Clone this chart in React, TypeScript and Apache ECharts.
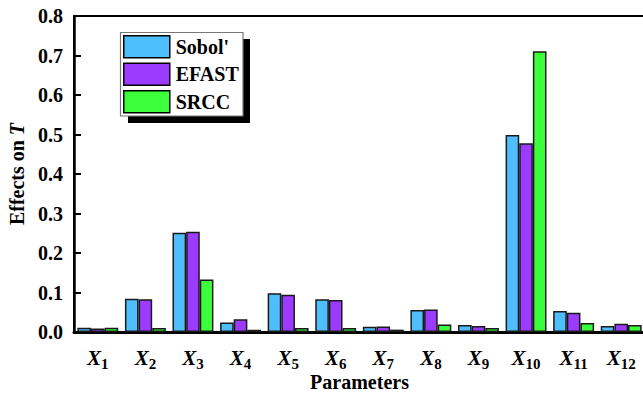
import React, { useEffect, useRef } from "react";
import * as echarts from "echarts";

const categories = ["1", "2", "3", "4", "5", "6", "7", "8", "9", "10", "11", "12"];
const sobol = [0.011, 0.084, 0.251, 0.024, 0.098, 0.083, 0.013, 0.056, 0.018, 0.499, 0.053, 0.015];
const efast = [0.009, 0.083, 0.254, 0.032, 0.094, 0.081, 0.014, 0.057, 0.015, 0.478, 0.049, 0.021];
const srcc = [0.011, 0.010, 0.133, 0.006, 0.010, 0.010, 0.006, 0.019, 0.010, 0.711, 0.023, 0.018];
const seriesNames = ["Sobol'", "EFAST", "SRCC"];
const colors = ["#4FBEFF", "#9B3BFF", "#3CFF3C"];

const FONT = "Liberation Serif";

export default function App() {
  const ref = useRef<HTMLDivElement>(null);
  useEffect(() => {
    if (!ref.current) return;
    const chart = echarts.init(ref.current, null, { renderer: "svg" });
    const values = [sobol, efast, srcc];
    chart.setOption({
      animation: false,
      backgroundColor: "#fff",
      grid: {
        left: 74,
        top: 16,
        right: -2,
        bottom: 62,
        show: true,
        borderColor: "#000",
        borderWidth: 2,
        outerBoundsMode: "none",
        containLabel: false,
      },
      legend: {
        orient: "vertical",
        left: 123,
        top: 35,
        itemWidth: 46,
        itemHeight: 22,
        itemGap: 4,
        padding: 0,
        icon: "rect",
        data: seriesNames,
        itemStyle: { borderColor: "#000", borderWidth: 1.5 },
        textStyle: { fontFamily: FONT, fontWeight: "bold", fontSize: 20, color: "#000", padding: [0, 0, 0, 1] },
      },
      graphic: [
        { type: "rect", shape: { x: 243, y: 39, width: 7, height: 84 }, style: { fill: "#000" }, z: 1 },
        { type: "rect", shape: { x: 128, y: 116, width: 122, height: 7 }, style: { fill: "#000" }, z: 1 },
        { type: "rect", shape: { x: 120.5, y: 32.5, width: 122.5, height: 83.5 }, style: { fill: "none", stroke: "#777", lineWidth: 1.2 }, z: 1 },
      ],
      xAxis: {
        type: "category",
        data: categories,
        name: "Parameters",
        nameLocation: "middle",
        nameGap: 40,
        nameMoveOverlap: false,
        nameTextStyle: { fontFamily: FONT, fontWeight: "bold", fontSize: 20, color: "#000", lineHeight: 20 },
        axisLine: { lineStyle: { color: "#000", width: 3 } },
        axisTick: { show: false },
        axisLabel: {
          interval: 0,
          margin: 12,
          formatter: (v: string) => `{x|X}{s|${v}}`,
          rich: {
            x: { fontFamily: FONT, fontWeight: "bold", fontStyle: "italic", fontSize: 21, color: "#000" },
            s: { fontFamily: FONT, fontWeight: "bold", fontSize: 15, color: "#000", padding: [12, 0, 0, 0] },
          },
        },
      },
      yAxis: {
        type: "value",
        min: 0,
        max: 0.8,
        interval: 0.1,
        name: "{a|Effects on }{b|T}",
        nameLocation: "middle",
        nameGap: 47,
        nameMoveOverlap: false,
        nameTextStyle: {
          rich: {
            a: { fontFamily: FONT, fontWeight: "bold", fontSize: 20, color: "#000" },
            b: { fontFamily: FONT, fontWeight: "bold", fontStyle: "italic", fontSize: 20, color: "#000" },
          },
        },
        axisLine: { show: true, lineStyle: { color: "#000", width: 2.5 } },
        axisTick: { show: true, inside: true, length: 7, lineStyle: { color: "#000", width: 2 } },
        splitLine: { show: false },
        axisLabel: {
          margin: 11,
          fontFamily: FONT,
          fontWeight: "bold",
          fontSize: 20,
          color: "#000",
          formatter: (v: number) => v.toFixed(1),
        },
      },
      series: seriesNames.map((name, i) => ({
        name,
        type: "bar",
        data: values[i],
        barGap: "0%",
        barCategoryGap: "14%",
        itemStyle: { color: colors[i], borderColor: "#1a1a1a", borderWidth: 1.5 },
      })),
    });
    return () => chart.dispose();
  }, []);
  return <div ref={ref} style={{ width: 643, height: 394, position: "absolute", left: 0, top: 0 }} />;
}
